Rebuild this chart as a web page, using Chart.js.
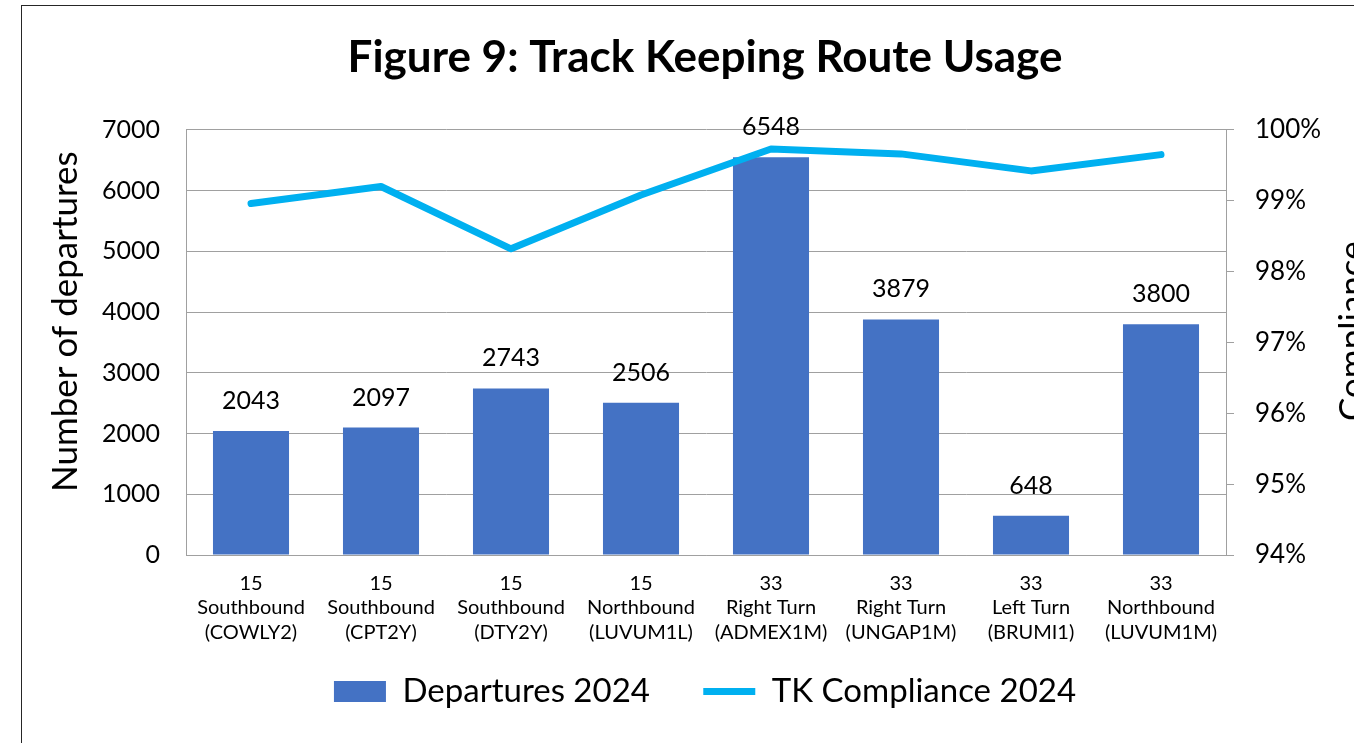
<!DOCTYPE html>
<html>
<head>
<meta charset="utf-8">
<script src="https://cdn.jsdelivr.net/npm/chart.js@4.4.0/dist/chart.umd.min.js"></script>
<style>
  html, body { margin: 0; padding: 0; background: #fff; overflow: hidden; }
  #wrap { position: relative; width: 1354px; height: 743px; overflow: hidden; }
  #frame { position: absolute; left: 21px; top: 5px; width: 1500px; height: 900px; border: 1.5px solid #262626; box-sizing: border-box; }
  #routeChart { position: absolute; left: 0; top: 0; }
</style>
</head>
<body>
<div id="wrap">
  <div id="frame"></div>
  <canvas id="routeChart" width="1410" height="743"></canvas>
</div>
<script>
// route labels, one line per entry
const routes = [
  ["15", "Southbound", "(COWLY2)"],
  ["15", "Southbound", "(CPT2Y)"],
  ["15", "Southbound", "(DTY2Y)"],
  ["15", "Northbound", "(LUVUM1L)"],
  ["33", "Right Turn", "(ADMEX1M)"],
  ["33", "Right Turn", "(UNGAP1M)"],
  ["33", "Left Turn", "(BRUMI1)"],
  ["33", "Northbound", "(LUVUM1M)"]
];
const departures = [2043, 2097, 2743, 2506, 6548, 3879, 648, 3800];
const compliance = [98.96, 99.2, 98.32, 99.08, 99.73, 99.66, 99.42, 99.65];
const countTicks = [0, 1000, 2000, 3000, 4000, 5000, 6000, 7000];
const percentTicks = [94, 95, 96, 97, 98, 99, 100];

const FONT = 'Lato';
const GRID = '#A0A0A0';

// value labels over the bars + both axis titles (Excel style, reading upwards)
const extraText = {
  id: 'extraText',
  afterDatasetsDraw(chart) {
    const ctx = chart.ctx;
    const area = chart.chartArea;
    const bars = chart.getDatasetMeta(0).data;
    ctx.save();
    ctx.font = '25px ' + FONT;
    ctx.fillStyle = '#000';
    ctx.textAlign = 'center';
    ctx.textBaseline = 'middle';
    bars.forEach((bar, i) => {
      ctx.fillText(String(departures[i]), bar.x, bar.y - 30);
    });
    ctx.font = '35px ' + FONT;
    ctx.textAlign = 'left';
    ctx.textBaseline = 'alphabetic';

    ctx.save();
    ctx.translate(area.left - 109, area.bottom - 63);
    ctx.rotate(-Math.PI / 2);
    ctx.fillText('Number of departures', 0, 0);
    ctx.restore();

    ctx.save();
    ctx.translate(area.right + 138, area.bottom - 134);
    ctx.rotate(-Math.PI / 2);
    ctx.fillText('Compliance', 0, 0);
    ctx.restore();

    ctx.restore();
  }
};

new Chart(document.getElementById('routeChart'), {
  data: {
    labels: routes,
    datasets: [
      {
        type: 'bar',
        label: 'Departures 2024',
        data: departures,
        backgroundColor: '#4472C4',
        categoryPercentage: 1,
        barPercentage: 0.585,
        pointStyle: 'rect',
        order: 1
      },
      {
        type: 'line',
        label: 'TK Compliance 2024',
        data: compliance,
        yAxisID: 'y1',
        borderColor: '#00B0F0',
        backgroundColor: '#00B0F0',
        borderWidth: 7,
        borderCapStyle: 'round',
        borderJoinStyle: 'round',
        pointRadius: 0,
        pointStyle: 'line',
        tension: 0,
        order: 0
      }
    ]
  },
  options: {
    responsive: false,
    animation: false,
    layout: { padding: { left: 0, right: 0, top: 0, bottom: 25 } },
    plugins: {
      title: {
        display: true,
        text: 'Figure 9: Track Keeping Route Usage',
        color: '#000',
        font: { family: FONT, size: 44, weight: 'bold' },
        padding: { top: 31, bottom: 46 }
      },
      legend: {
        position: 'bottom',
        labels: {
          usePointStyle: true,
          pointStyleWidth: 52,
          boxHeight: 21,
          color: '#000',
          font: { family: FONT, size: 33 },
          padding: 28,
          sort: (a, b) => a.datasetIndex - b.datasetIndex,
          generateLabels(chart) {
            const items = Chart.defaults.plugins.legend.labels.generateLabels(chart);
            // wider gap between the two entries than labels.padding gives
            items.forEach(item => { if (item.datasetIndex === 0) item.text += '   '; });
            return items;
          }
        }
      },
      tooltip: { enabled: false }
    },
    scales: {
      x: {
        grid: { display: false },
        border: { display: true, color: GRID },
        ticks: {
          color: '#000',
          font: { family: FONT, size: 20, lineHeight: 1.225 },
          padding: 8,
          maxRotation: 0,
          autoSkip: false
        },
        afterFit(scale) { scale.height = 92; }
      },
      y: {
        position: 'left',
        min: countTicks[0],
        max: countTicks[countTicks.length - 1],
        afterBuildTicks(scale) { scale.ticks = countTicks.map(v => ({ value: v })); },
        grid: { color: GRID, drawTicks: false },
        border: { display: true, color: GRID },
        ticks: { color: '#000', font: { family: FONT, size: 25 }, padding: 26, callback: v => String(v) },
        afterFit(scale) { scale.width = 186; }
      },
      y1: {
        position: 'right',
        min: percentTicks[0],
        max: percentTicks[percentTicks.length - 1],
        afterBuildTicks(scale) { scale.ticks = percentTicks.map(v => ({ value: v })); },
        grid: { drawOnChartArea: false, color: GRID, tickLength: 8 },
        border: { display: true, color: GRID },
        ticks: {
          color: '#000',
          font: { family: FONT, size: 26 },
          padding: 21,
          callback: v => v + '%'
        },
        afterFit(scale) { scale.width = 184; }
      }
    }
  },
  plugins: [extraText]
});
</script>
</body>
</html>
